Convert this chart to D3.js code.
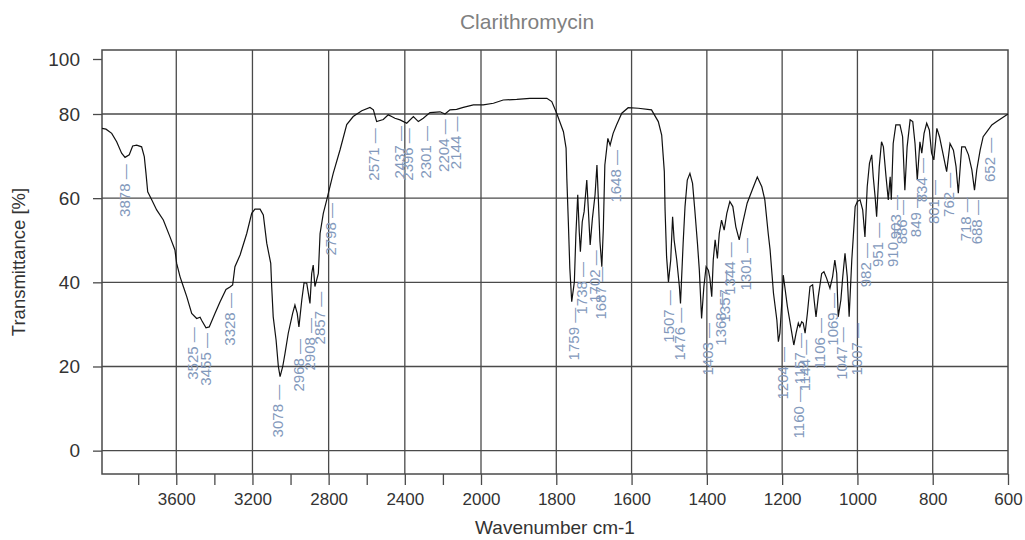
<!DOCTYPE html>
<html>
<head>
<meta charset="utf-8">
<script src="https://cdn.jsdelivr.net/npm/d3@7"></script>
<style>
  body { margin: 0; background: #fff; }
  svg { display: block; }
  text { font-family: "Liberation Sans", Arial, sans-serif; }
</style>
</head>
<body>
<div id="chart"></div>
<script>
// spectrum (wavenumber cm-1 / transmittance %)
const wavenumber = [3990,3969,3939,3913,3887,3869,3847,3829,3808,3782,3768,3759,3750,3729,3703,3668,3633,3607,3598,3580,3563,3545,3519,3493,3475,3467,3444,3427,3397,3370,3339,3318,3304,3292,3265,3230,3204,3187,3160,3143,3125,3104,3099,3091,3076,3064,3055,3041,3029,3012,2989,2977,2965,2956,2941,2929,2915,2898,2889,2881,2872,2854,2845,2828,2810,2776,2740,2705,2671,2626,2583,2565,2548,2513,2487,2469,2452,2425,2390,2355,2329,2303,2268,2215,2189,2163,2128,2093,2040,1994,1967,1941,1905,1870,1825,1812,1799,1781,1774,1772,1768,1764,1759,1752,1748,1743,1739,1736,1731,1726,1719,1715,1710,1704,1697,1692,1688,1684,1679,1675,1671,1663,1657,1649,1640,1626,1609,1582,1547,1529,1520,1513,1511,1507,1502,1496,1491,1487,1480,1473,1470,1463,1458,1452,1445,1438,1432,1425,1420,1414,1408,1402,1396,1392,1387,1383,1378,1372,1367,1361,1354,1347,1339,1331,1323,1314,1305,1293,1278,1266,1254,1246,1237,1232,1223,1214,1210,1206,1201,1197,1193,1186,1177,1169,1163,1157,1153,1148,1144,1139,1133,1126,1119,1115,1110,1104,1095,1089,1082,1073,1066,1060,1055,1051,1044,1039,1033,1027,1022,1015,1011,1006,1000,993,986,980,974,968,962,958,953,949,942,936,931,924,918,913,910,905,898,887,880,874,868,860,853,847,841,834,829,823,816,809,803,797,789,782,773,763,754,745,738,732,723,714,705,696,689,683,674,666,656,643,630,617,603,600];
const transmittance = [76.6,76.4,75.4,73.4,70.7,69.7,70.3,72.4,72.6,72.2,69.9,65.9,61.5,59.6,57.2,54.8,50.8,47.7,44.5,41.3,39.0,36.6,32.6,31.4,31.7,31.0,29.2,29.4,32.6,35.4,38.3,38.9,39.4,43.7,46.5,51.6,56.4,57.4,57.4,56.0,49.3,44.5,39.0,31.8,26.3,20.0,17.6,20.0,23.1,27.9,32.6,34.6,32.6,29.4,35.8,39.9,39.8,35.0,42.1,44.1,39.0,42.1,51.6,56.4,59.6,65.9,71.5,77.5,79.4,81.2,82.4,81.5,78.2,78.7,79.8,79.4,79.0,78.6,77.8,79.4,78.2,79.0,80.5,80.8,80.0,81.5,81.7,82.4,83.3,83.3,83.9,85.1,85.3,85.7,85.7,84.5,80.3,75.8,71.9,64.7,54.4,43.3,35.4,40.1,51.2,60.8,52.0,47.3,54.4,56.8,64.3,57.6,48.9,55.2,60.8,67.9,59.2,49.7,43.7,52.8,67.9,74.2,72.6,75.4,77.4,80.3,82.3,82.1,81.5,78.2,75.0,66.3,57.2,46.1,40.1,45.3,55.6,50.1,45.3,39.0,35.0,49.3,58.0,64.3,65.9,63.5,57.2,49.3,42.9,31.4,38.9,43.7,42.9,41.0,36.6,45.3,50.1,45.7,51.6,54.8,52.4,56.4,59.2,58.0,53.2,50.1,54.0,58.8,62.3,65.0,62.7,59.6,51.6,47.7,37.4,31.0,25.9,27.9,35.0,41.7,39.0,34.2,29.4,25.1,27.9,30.3,29.4,30.6,30.3,27.9,32.6,39.0,39.4,35.8,31.8,36.6,42.1,42.5,41.0,38.6,41.3,45.3,42.1,31.8,35.8,41.3,46.9,41.3,31.8,45.3,50.8,58.0,59.2,59.6,57.2,50.8,62.7,68.3,70.3,65.1,60.3,55.6,67.5,73.4,72.2,65.1,59.6,65.1,59.6,73.0,77.4,77.4,74.6,61.9,72.2,78.6,78.2,73.0,64.3,73.4,70.7,75.4,77.8,76.2,70.7,69.1,76.6,74.6,70.7,66.3,73.0,71.4,67.5,61.2,72.2,72.2,70.3,66.7,61.9,66.7,71.4,74.6,75.8,77.4,78.2,79.0,79.8,80.0];

// peak table
const peakWn = [3878,3525,3455,3328,3078,2968,2908,2857,2798,2571,2437,2396,2301,2204,2144,1759,1738,1702,1687,1648,1507,1476,1403,1368,1357,1344,1301,1204,1160,1157,1144,1106,1069,1047,1007,982,951,910,903,886,849,834,801,762,718,688,652];
const peakT = [69.7,31.0,29.6,39.1,17.3,28.2,33.2,39.4,60.5,78.3,78.8,78.3,78.8,80.6,81.6,35.6,46.5,49.3,45.3,73.1,39.8,35.6,32.0,39.1,44.6,51.2,52.2,26.3,16.8,29.6,28.0,33.2,39.1,31.0,32.0,51.0,55.8,55.8,62.4,61.2,62.9,71.2,66.0,67.7,61.9,61.2,76.0];

const xTickValues = d3.range(3800, 1999, -200).concat(d3.range(1800, 599, -200));
const xLabelled = [3600, 3200, 2800, 2400, 2000, 1800, 1600, 1400, 1200, 1000, 800, 600];
const yTickValues = [0, 20, 40, 60, 80, 100];
const yGrid = [0, 20, 40, 60, 80];

/** CONSTANTS */
const width = 1025;
const height = 540;
const plot = { left: 102, right: 1008, top: 50, bottom: 474, xBreak: 481, y80: 114, y100: 59 };
const gridColor = "#4a4a4a";

// wavenumber axis is compressed above 2000, and the top of the y axis is squeezed
const xScale = d3.scaleLinear()
  .domain([3990, 2000, 600])
  .range([plot.left, plot.xBreak, plot.right]);

const yScale = d3.scaleLinear()
  .domain([-5.55, 80, 100])
  .range([plot.bottom, plot.y80, plot.y100]);

const svg = d3.select("#chart")
  .append("svg")
  .attr("width", width)
  .attr("height", height);

// grid
svg.append("g")
  .selectAll("line")
  .data(xLabelled.filter(d => d !== 600))
  .join("line")
  .attr("x1", d => xScale(d)).attr("x2", d => xScale(d))
  .attr("y1", plot.top).attr("y2", plot.bottom)
  .attr("stroke", gridColor).attr("stroke-width", 1.3);

svg.append("g")
  .selectAll("line")
  .data(yGrid)
  .join("line")
  .attr("x1", plot.left).attr("x2", plot.right)
  .attr("y1", d => yScale(d)).attr("y2", d => yScale(d))
  .attr("stroke", gridColor).attr("stroke-width", 1.3);

svg.append("rect")
  .attr("x", plot.left).attr("y", plot.top)
  .attr("width", plot.right - plot.left)
  .attr("height", plot.bottom - plot.top)
  .attr("fill", "none")
  .attr("stroke", gridColor).attr("stroke-width", 1.5);

// axes
const xAxis = svg.append("g")
  .attr("transform", `translate(0,${plot.bottom})`)
  .call(d3.axisBottom(xScale)
    .tickValues(xTickValues)
    .tickSize(11)
    .tickPadding(8)
    .tickFormat(d => xLabelled.includes(d) ? d : ""));

const yAxis = svg.append("g")
  .attr("transform", `translate(${plot.left},0)`)
  .call(d3.axisLeft(yScale)
    .tickValues(yTickValues)
    .tickSize(9)
    .tickPadding(13));

[xAxis, yAxis].forEach(g => {
  g.select(".domain").remove();
  g.selectAll(".tick line").attr("stroke", gridColor).attr("stroke-width", 1.3);
  g.selectAll(".tick text").attr("fill", "#333").attr("font-family", '"Liberation Sans", Arial, sans-serif');
});
xAxis.selectAll(".tick text").attr("font-size", 17);
yAxis.selectAll(".tick text").attr("font-size", 19);

// spectrum
const line = d3.line()
  .x((d, i) => xScale(wavenumber[i]))
  .y((d, i) => yScale(transmittance[i]));

svg.append("path")
  .datum(wavenumber)
  .attr("d", line)
  .attr("fill", "none")
  .attr("stroke", "#111")
  .attr("stroke-width", 1.2);

// peak labels
const peaks = peakWn.map((w, i) => ({ w, t: peakT[i] }));
svg.selectAll("text.peak")
  .data(peaks)
  .join("text")
  .attr("class", "peak")
  .attr("transform", d => `translate(${xScale(d.w) + 1.5},${yScale(d.t) + 7}) rotate(-90)`)
  .attr("text-anchor", "end")
  .attr("dominant-baseline", "central")
  .attr("font-size", 15)
  .attr("fill", "#8399bc")
  .text(d => d.w + " \u2014");

// titles
svg.append("text")
  .attr("x", 527).attr("y", 29)
  .attr("text-anchor", "middle")
  .attr("font-family", '"Open Sans", sans-serif')
  .attr("font-size", 21)
  .attr("fill", "#808080")
  .text("Clarithromycin");

svg.append("text")
  .attr("x", (plot.left + plot.right) / 2).attr("y", 534)
  .attr("text-anchor", "middle")
  .attr("font-size", 19)
  .attr("fill", "#333")
  .text("Wavenumber cm-1");

svg.append("text")
  .attr("transform", `translate(25,${(plot.top + plot.bottom) / 2}) rotate(-90)`)
  .attr("text-anchor", "middle")
  .attr("font-size", 18.5)
  .attr("fill", "#333")
  .text("Transmittance [%]");
</script>
</body>
</html>
